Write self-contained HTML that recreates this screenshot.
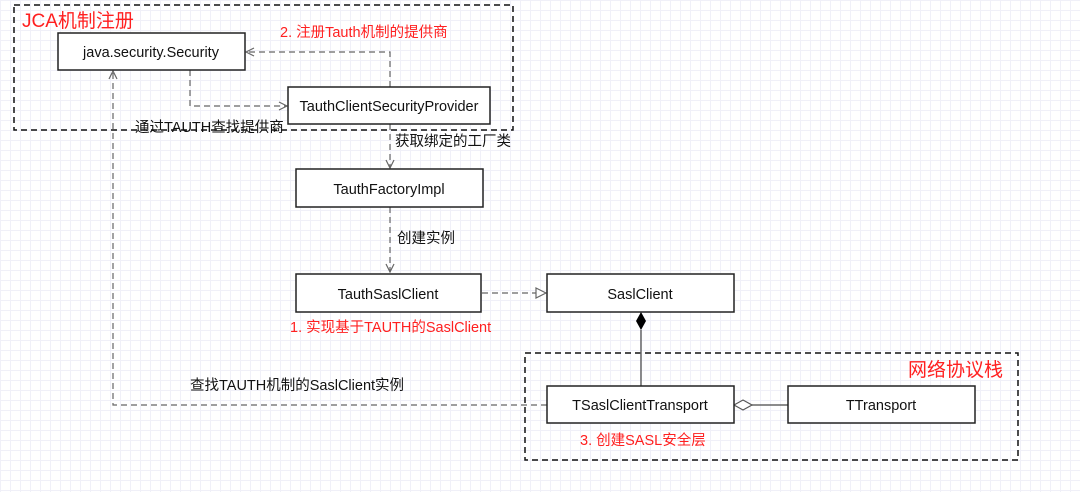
<!DOCTYPE html>
<html><head><meta charset="utf-8"><style>
body{margin:0;width:1080px;height:492px;overflow:hidden;background:#fff;
background-image:linear-gradient(#f0f0f8 1px,transparent 1px),linear-gradient(90deg,#f0f0f8 1px,transparent 1px);background-size:10px 10px;}
svg{position:absolute;left:0;top:0}
text{font-family:"Liberation Sans","Noto Sans CJK SC",sans-serif;font-size:14.5px;fill:#111}
.r{fill:#ff2020}
</style></head><body>
<svg width="1080" height="492" viewBox="0 0 1080 492">
<defs>
<marker id="oa" markerWidth="10" markerHeight="10" refX="9" refY="5" orient="auto" markerUnits="userSpaceOnUse"><path d="M1,1 L9,5 L1,9" fill="none" stroke="#666" stroke-width="1.2"/></marker>
<marker id="tri" markerWidth="12" markerHeight="12" refX="11" refY="6" orient="auto" markerUnits="userSpaceOnUse"><path d="M1,1 L11,6 L1,11 Z" fill="#fff" stroke="#666" stroke-width="1.2"/></marker>
</defs>
<g fill="none" stroke="#111" stroke-width="1.5" stroke-dasharray="6,4">
<rect x="14" y="5" width="499" height="125"/>
<rect x="525" y="353" width="493" height="107"/>
</g>
<g fill="none" stroke="#666" stroke-width="1.2" stroke-dasharray="6,4">
<polyline points="390,87 390,52 246,52" marker-end="url(#oa)"/>
<polyline points="190,70 190,106 287,106" marker-end="url(#oa)"/>
<line x1="390" y1="124" x2="390" y2="168" marker-end="url(#oa)"/>
<line x1="390" y1="207" x2="390" y2="272" marker-end="url(#oa)"/>
<line x1="482" y1="293" x2="546" y2="293" marker-end="url(#tri)"/>
<polyline points="547,405 113,405 113,71" marker-end="url(#oa)"/>
</g>
<line x1="641" y1="330" x2="641" y2="386" stroke="#666" stroke-width="1.5"/>
<path d="M641,312 L646,321 L641,330 L636,321 Z" fill="#000"/>
<line x1="752" y1="405" x2="788" y2="405" stroke="#666" stroke-width="1.5"/>
<path d="M734,405 L743,400 L752,405 L743,410 Z" fill="#fff" stroke="#555" stroke-width="1.2"/>
<g fill="#fff" stroke="#222" stroke-width="1.5">
<rect x="58" y="33" width="187" height="37"/>
<rect x="288" y="87" width="202" height="37"/>
<rect x="296" y="169" width="187" height="38"/>
<rect x="296" y="274" width="185" height="38"/>
<rect x="547" y="274" width="187" height="38"/>
<rect x="547" y="386" width="187" height="37"/>
<rect x="788" y="386" width="187" height="37"/>
</g>
<g text-anchor="middle">
<text x="151" y="57">java.security.Security</text>
<text x="389" y="111">TauthClientSecurityProvider</text>
<text x="389" y="194">TauthFactoryImpl</text>
<text x="388" y="299">TauthSaslClient</text>
<text x="640" y="299">SaslClient</text>
<text x="640" y="410">TSaslClientTransport</text>
<text x="881" y="410">TTransport</text>
</g>
<text x="22" y="27" class="r" style="font-size:19px">JCA机制注册</text>
<text x="280" y="37" class="r">2. 注册Tauth机制的提供商</text>
<text x="135" y="132">通过TAUTH查找提供商</text>
<text x="395" y="146">获取绑定的工厂类</text>
<text x="397" y="243">创建实例</text>
<text x="290" y="332" class="r">1. 实现基于TAUTH的SaslClient</text>
<text x="190" y="390">查找TAUTH机制的SaslClient实例</text>
<text x="908" y="376" class="r" style="font-size:19px">网络协议栈</text>
<text x="580" y="445" class="r">3. 创建SASL安全层</text>
</svg>
</body></html>
